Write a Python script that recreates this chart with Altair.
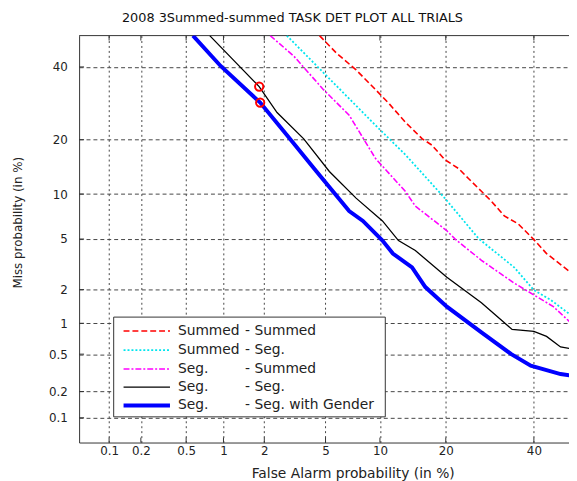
import altair as alt
import pandas as pd
from statistics import NormalDist

# ---------------- data (all values in %) ----------------
title_text = "2008 3Summed-summed TASK DET PLOT ALL TRIALS"
left_words = ["Summed", "Summed", "Seg.", "Seg.", "Seg."]
right_words = ["- Summed", "- Seg.", "- Summed", "- Seg.", "- Seg. with Gender"]

ss_fa = [4.6, 5.79, 7.48, 9.5, 11.2, 13.3, 15.9, 17.5, 19.8, 22.5, 24.5, 27.3, 29.6, 32.6, 36.0, 40.0, 43.3, 49.6]
ss_miss = [50, 44.4, 39.1, 33.1, 28.9, 24.2, 20.2, 18.8, 15.8, 14.1, 12.4, 10.4, 9.0, 7.24, 6.4, 4.95, 3.9, 2.79]

sg_fa = [2.85, 5.06, 9.5, 13.3, 19.8, 26.7, 35.0, 40.0, 44.4, 49.6]
sg_miss = [50, 37.3, 23.4, 16.8, 9.44, 5.03, 3.05, 1.98, 1.63, 1.2]

gs_fa = [2.2, 3.17, 4.86, 6.85, 9.5, 13.3, 14.8, 20.2, 21.7, 27.3, 35.0, 40.0, 45.1, 49.6]
gs_miss = [50, 43.4, 33.1, 26.0, 16.0, 10.4, 8.4, 5.73, 5.03, 3.46, 2.27, 1.80, 1.42, 1.02]

gg_fa = [0.78, 1.84, 2.45, 3.67, 5.27, 7.48, 10.3, 12.35, 14.8, 20.2, 27.3, 34.5, 40.0, 43.3, 47.0, 49.6]
gg_miss = [50, 34.0, 26.7, 20.2, 13.6, 9.44, 6.7, 4.87, 4.11, 2.54, 1.54, 0.875, 0.84, 0.75, 0.59, 0.57]

gw_fa = [0.57, 0.95, 1.87, 2.85, 4.41, 6.85, 8.15, 10.3, 11.6, 14.3, 16.4, 20.2, 27.3, 34.3, 39.2, 47.0, 49.6]
gw_miss = [50, 40.3, 29.4, 21.1, 13.6, 7.8, 6.7, 4.87, 3.9, 3.05, 2.1, 1.42, 0.82, 0.50, 0.38, 0.31, 0.30]

min_dcf_fa = [1.84, 1.87]
min_dcf_miss = [34.0, 29.4]

tick_vals = [0.1, 0.2, 0.5, 1, 2, 5, 10, 20, 40]
tick_labels = ["0.1", "0.2", "0.5", "1", "2", "5", "10", "20", "40"]

# ---------------- helpers ----------------
nd = NormalDist()


def probit(pct):
    return nd.inv_cdf(pct / 100.0)


W, H = 496, 412
FONT = "DejaVu Sans"
xdom = [probit(0.05), probit(49.25)]
ydom = [probit(0.05), probit(50)]

tick_pos = [probit(v) for v in tick_vals]
expr = "'" + tick_labels[-1] + "'"
for i in range(len(tick_pos) - 2, -1, -1):
    mid = (tick_pos[i] + tick_pos[i + 1]) / 2
    expr = f"datum.value < {mid:.4f} ? '{tick_labels[i]}' : ({expr})"

xaxis = alt.Axis(
    values=tick_pos, labelExpr=expr, grid=True, gridDash=[2, 3], gridColor="#444",
    gridWidth=1, gridOpacity=1, tickSize=0, domain=True, domainColor="#333",
    labelFont=FONT, labelFontSize=12, labelColor="#222", labelPadding=3,
    labelOverlap=False, labelFlush=False,
    title="False Alarm probability (in %)", titleFont=FONT, titleFontSize=14,
    titleFontWeight="normal", titleColor="#222", titleX=277, titleY=31,
    titleBaseline="middle", titleAlign="center",
)
yaxis = alt.Axis(
    values=tick_pos, labelExpr=expr, grid=True, gridDash=[4, 3], gridColor="#444",
    gridWidth=1, gridOpacity=1, tickSize=0, domain=True, domainColor="#333",
    labelFont=FONT, labelFontSize=12, labelColor="#222", labelPadding=12,
    labelOverlap=False, labelFlush=False,
    title="Miss probability (in %)", titleFont=FONT, titleFontSize=12,
    titleFontWeight="normal", titleColor="#222", titleX=-62, titleY=189,
    titleAngle=270, titleBaseline="middle", titleAlign="center",
)
X = alt.X("px:Q", scale=alt.Scale(domain=xdom, nice=False, zero=False), axis=xaxis)
Y = alt.Y("py:Q", scale=alt.Scale(domain=ydom, nice=False, zero=False), axis=yaxis)


def curve_df(fa, miss):
    return pd.DataFrame({
        "i": list(range(len(fa))),
        "fa": fa, "miss": miss,
        "px": [probit(v) for v in fa],
        "py": [probit(v) for v in miss],
    })


series = [
    (ss_fa, ss_miss, dict(color="#ff0000", strokeWidth=1.6, strokeDash=[6, 3])),
    (sg_fa, sg_miss, dict(color="#00e5ee", strokeWidth=1.8, strokeDash=[2, 2])),
    (gs_fa, gs_miss, dict(color="#ff00ff", strokeWidth=1.6, strokeDash=[6, 2, 2, 2])),
    (gg_fa, gg_miss, dict(color="#000000", strokeWidth=1.3)),
    (gw_fa, gw_miss, dict(color="#0000ff", strokeWidth=4)),
]

layers = []

# inward ticks (positions from scales)
ticks_df = pd.DataFrame({"px": tick_pos, "py": tick_pos})
layers.append(alt.Chart(ticks_df).mark_rule(color="#333", strokeWidth=1).encode(
    x=X, y=alt.value(H - 5), y2=alt.value(H)))
layers.append(alt.Chart(ticks_df).mark_rule(color="#333", strokeWidth=1).encode(
    x=X, y=alt.value(0), y2=alt.value(5)))
layers.append(alt.Chart(ticks_df).mark_rule(color="#333", strokeWidth=1).encode(
    y=Y, x=alt.value(0), x2=alt.value(5)))

one = pd.DataFrame({"a": [0]})
# top frame line
layers.append(alt.Chart(one).mark_rule(color="#333", strokeWidth=1).encode(
    x=alt.value(0), x2=alt.value(W), y=alt.value(0)))

for fa, miss, st in series:
    layers.append(alt.Chart(curve_df(fa, miss)).mark_line(clip=True, **st).encode(
        x=X, y=Y, order=alt.Order("i:Q")))

dcf_df = pd.DataFrame({"px": [probit(v) for v in min_dcf_fa],
                       "py": [probit(v) for v in min_dcf_miss]})
layers.append(alt.Chart(dcf_df).mark_point(shape="circle", filled=False, color="#ff0000",
                                           strokeWidth=2, size=70, opacity=1).encode(x=X, y=Y))

# legend box
layers.append(alt.Chart(one).mark_rect(fill="white", stroke="#333", strokeWidth=1).encode(
    x=alt.value(35), x2=alt.value(310), y=alt.value(285), y2=alt.value(386)))
row_y = [299, 318.5, 337.5, 356, 374.5]
for k, (fa, miss, st) in enumerate(series):
    layers.append(alt.Chart(one).mark_rule(**st).encode(
        x=alt.value(45), x2=alt.value(92), y=alt.value(row_y[k])))
    ldf = pd.DataFrame({"t": [left_words[k]]})
    rdf = pd.DataFrame({"t": [right_words[k]]})
    layers.append(alt.Chart(ldf).mark_text(align="left", baseline="middle", font=FONT,
                                           fontSize=14, color="#222").encode(
        x=alt.value(100), y=alt.value(row_y[k]), text="t:N"))
    layers.append(alt.Chart(rdf).mark_text(align="left", baseline="middle", font=FONT,
                                           fontSize=14, color="#222").encode(
        x=alt.value(168), y=alt.value(row_y[k]), text="t:N"))

chart = alt.layer(*layers).properties(
    width=W, height=H,
    title=alt.TitleParams(title_text, font=FONT, fontSize=13, fontWeight="normal",
                          color="#111", anchor="middle", dx=-32, offset=10, frame="group"),
    autosize=alt.AutoSizeParams(type="none"),
    padding={"left": 72, "top": 25, "right": 0, "bottom": 36},
).configure_view(stroke=None)

chart.save("out.html", embed_options={"renderer": "svg", "actions": False})
